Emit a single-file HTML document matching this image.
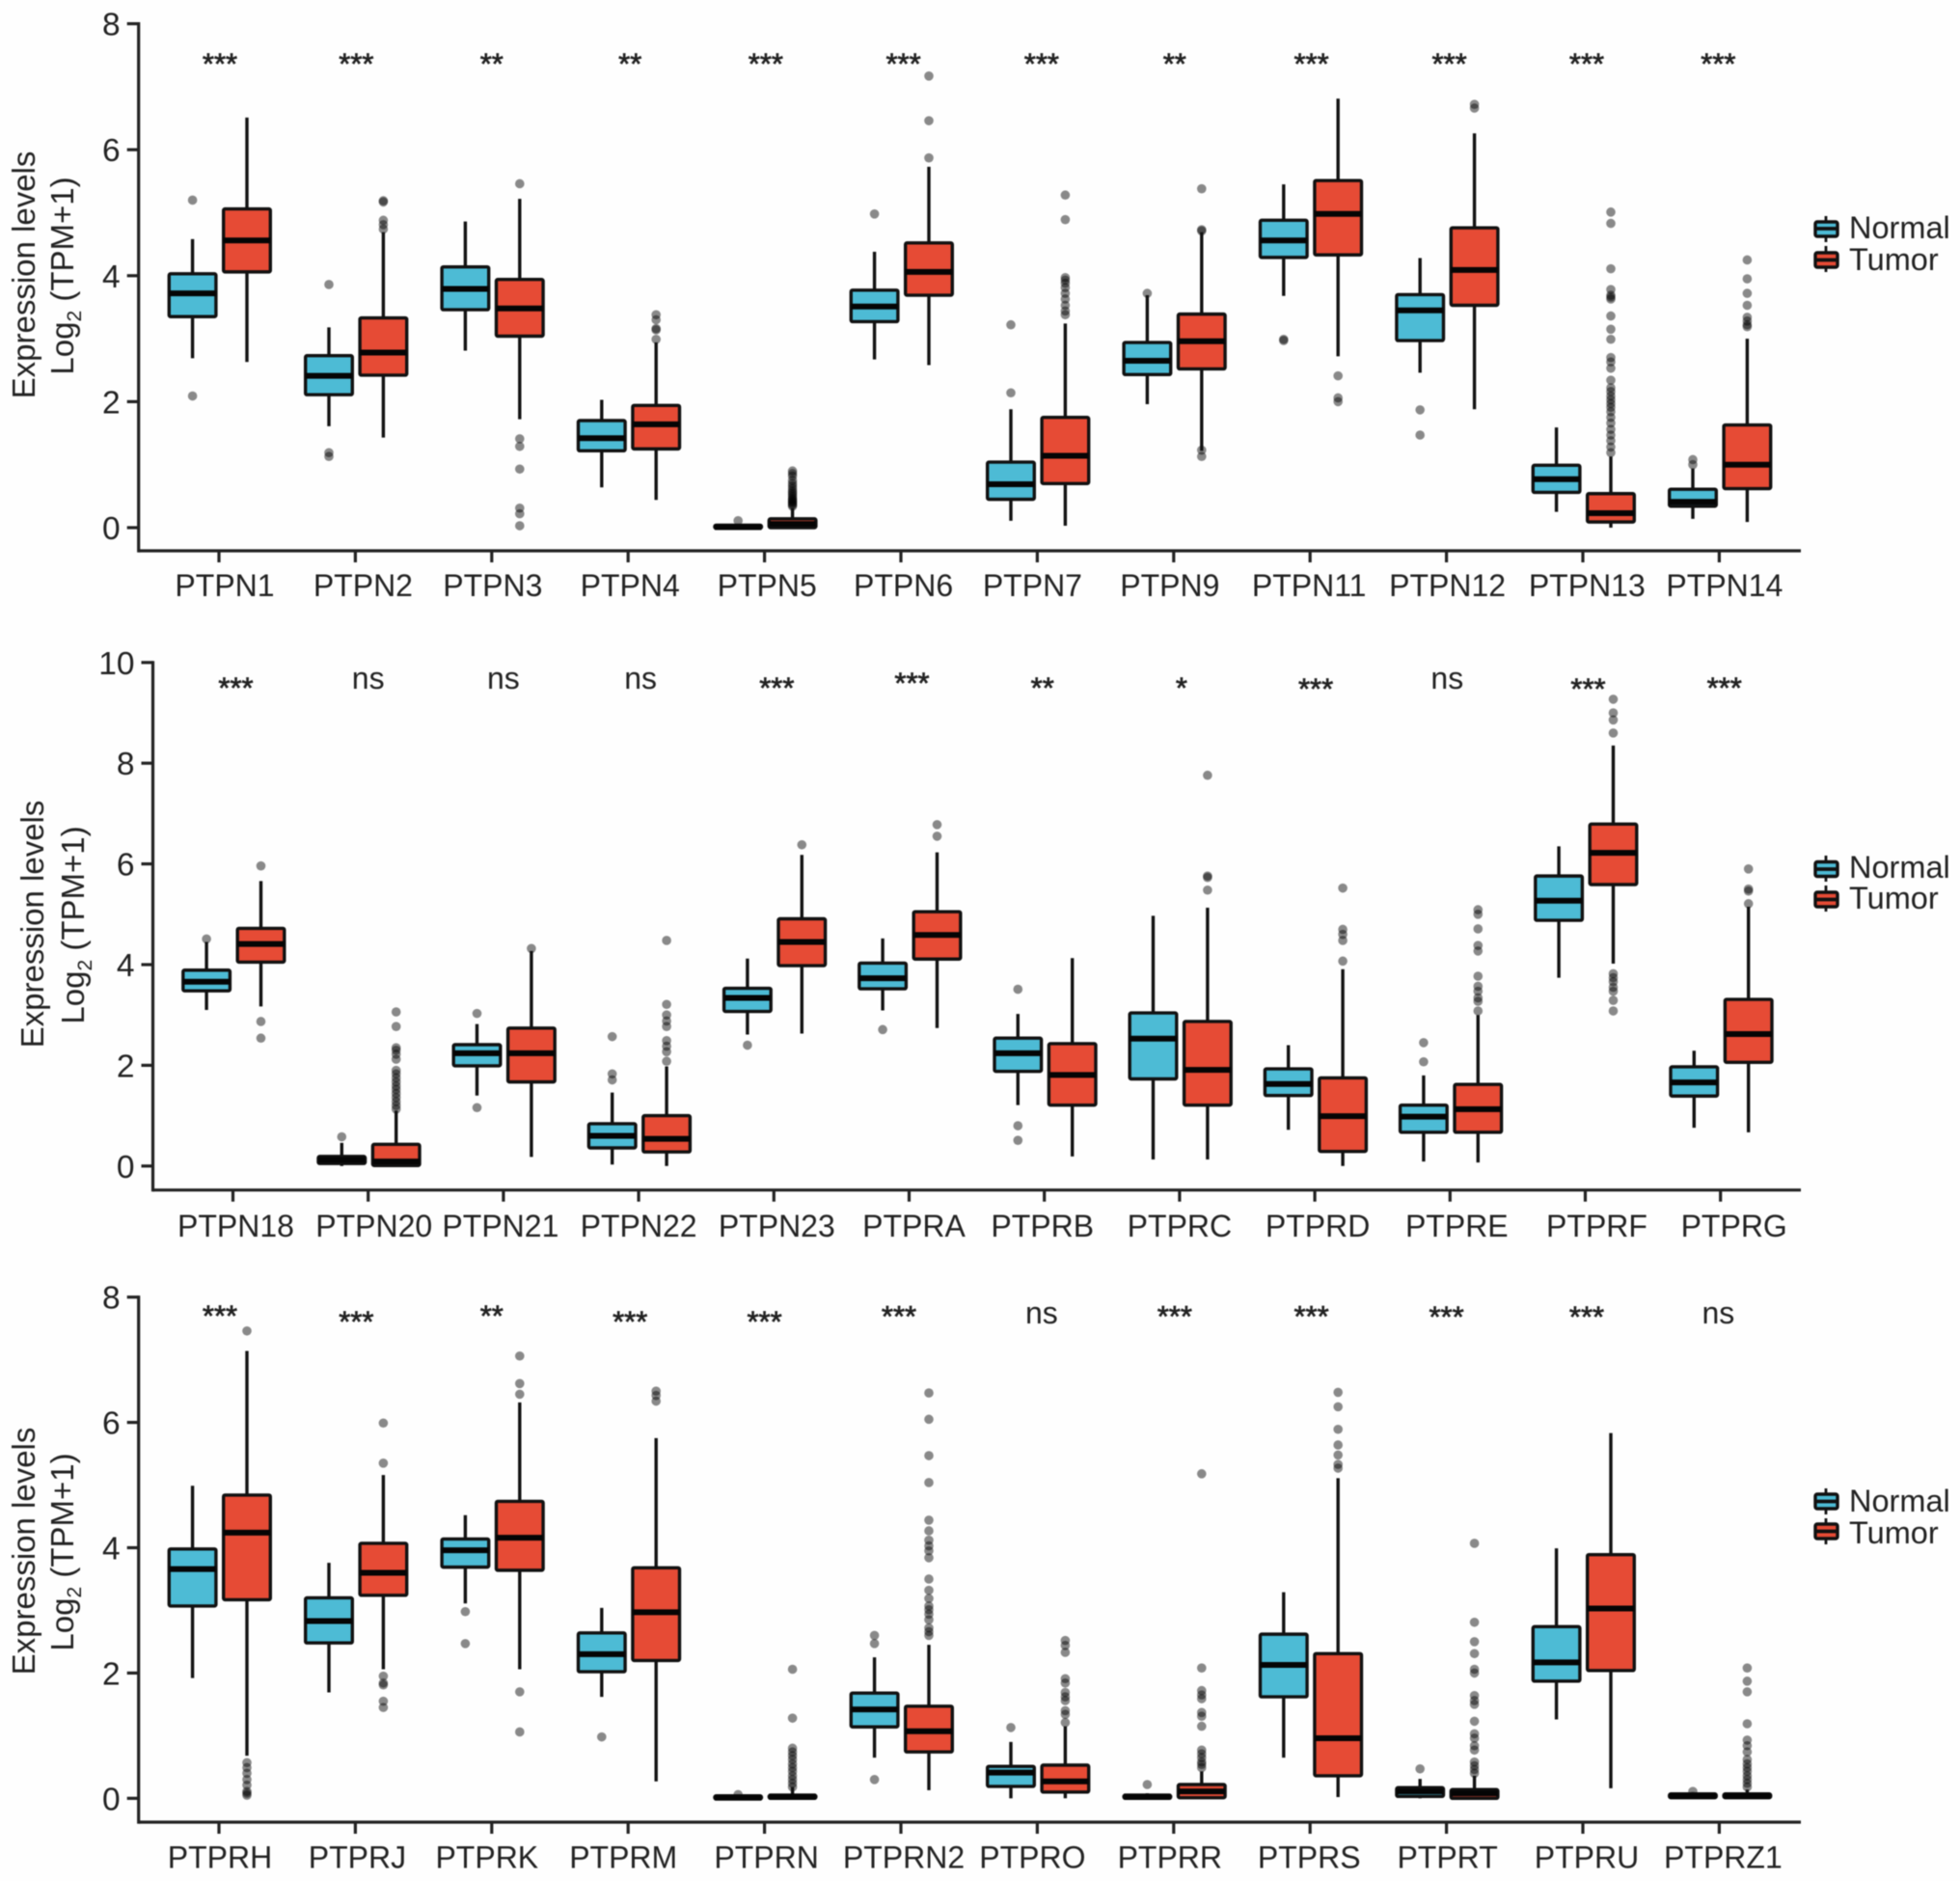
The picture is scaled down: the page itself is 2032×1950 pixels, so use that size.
<!DOCTYPE html>
<html lang="en">
<head>
<meta charset="utf-8">
<title>PTP family expression boxplots</title>
<style>
html,body{margin:0;padding:0;background:#fff;}
svg{display:block;font-family:"Liberation Sans",Arial,sans-serif;filter:blur(0.55px);}
text{fill:#222;}
</style>
</head>
<body>
<svg id="figure" xmlns="http://www.w3.org/2000/svg" width="2032" height="1950" viewBox="0 0 2032 1950">
  <rect x="0" y="0" width="2032" height="1950" fill="#fefefe"/>

  <g font-size="33">
    <text transform="translate(36,285) rotate(-90)" text-anchor="middle">Expression levels</text>
    <text transform="translate(76,286) rotate(-90)" text-anchor="middle">Log<tspan font-size="21" dy="8">2</tspan><tspan dy="-8"> (TPM+1)</tspan></text>
  </g>
  <g font-size="33">
    <text transform="translate(45,958) rotate(-90)" text-anchor="middle">Expression levels</text>
    <text transform="translate(87,959) rotate(-90)" text-anchor="middle">Log<tspan font-size="21" dy="8">2</tspan><tspan dy="-8"> (TPM+1)</tspan></text>
  </g>
  <g font-size="33">
    <text transform="translate(36,1608) rotate(-90)" text-anchor="middle">Expression levels</text>
    <text transform="translate(76,1609) rotate(-90)" text-anchor="middle">Log<tspan font-size="21" dy="8">2</tspan><tspan dy="-8"> (TPM+1)</tspan></text>
  </g>

  <g font-size="32.5">
    <g>
      <line x1="1893" x2="1893" y1="224" y2="251" stroke="#111" stroke-width="2.8"/>
      <rect x="1882" y="230" width="23" height="15" rx="2" fill="#4DBBD5" stroke="#111" stroke-width="3.4"/>
      <line x1="1882" x2="1905" y1="237" y2="237" stroke="#111" stroke-width="3.8"/>
      <text x="1917" y="247">Normal</text>
    </g>
    <g>
      <line x1="1893" x2="1893" y1="255" y2="282" stroke="#111" stroke-width="2.8"/>
      <rect x="1882" y="262" width="23" height="15" rx="2" fill="#E64B35" stroke="#111" stroke-width="3.4"/>
      <line x1="1882" x2="1905" y1="269.5" y2="269.5" stroke="#111" stroke-width="3.8"/>
      <text x="1917" y="280">Tumor</text>
    </g>
  </g>
  <g font-size="32.5">
    <g>
      <line x1="1893" x2="1893" y1="887" y2="914" stroke="#111" stroke-width="2.8"/>
      <rect x="1882" y="893.5" width="23" height="15" rx="2" fill="#4DBBD5" stroke="#111" stroke-width="3.4"/>
      <line x1="1882" x2="1905" y1="901" y2="901" stroke="#111" stroke-width="3.8"/>
      <text x="1917" y="910">Normal</text>
    </g>
    <g>
      <line x1="1893" x2="1893" y1="918" y2="945" stroke="#111" stroke-width="2.8"/>
      <rect x="1882" y="925" width="23" height="15" rx="2" fill="#E64B35" stroke="#111" stroke-width="3.4"/>
      <line x1="1882" x2="1905" y1="932.5" y2="932.5" stroke="#111" stroke-width="3.8"/>
      <text x="1917" y="942">Tumor</text>
    </g>
  </g>
  <g font-size="32.5">
    <g>
      <line x1="1893" x2="1893" y1="1543" y2="1570" stroke="#111" stroke-width="2.8"/>
      <rect x="1882" y="1549" width="23" height="15" rx="2" fill="#4DBBD5" stroke="#111" stroke-width="3.4"/>
      <line x1="1882" x2="1905" y1="1556.5" y2="1556.5" stroke="#111" stroke-width="3.8"/>
      <text x="1917" y="1567">Normal</text>
    </g>
    <g>
      <line x1="1893" x2="1893" y1="1574" y2="1601" stroke="#111" stroke-width="2.8"/>
      <rect x="1882" y="1580" width="23" height="15" rx="2" fill="#E64B35" stroke="#111" stroke-width="3.4"/>
      <line x1="1882" x2="1905" y1="1587.5" y2="1587.5" stroke="#111" stroke-width="3.8"/>
      <text x="1917" y="1600">Tumor</text>
    </g>
  </g>
</svg>

<script>
/* ---------- Panel 1 data ---------- */
const p1Categories = ['PTPN1','PTPN2','PTPN3','PTPN4','PTPN5','PTPN6','PTPN7','PTPN9','PTPN11','PTPN12','PTPN13','PTPN14'];
const p1Significance = ['***','***','**','**','***','***','***','**','***','***','***','***'];
const p1YTicks = [0,2,4,6,8];
const p1NormalLow  = [2.69,1.61,2.81,0.64,0.00,2.67,0.11,1.96,3.68,2.46,0.25,0.14];
const p1NormalQ1   = [3.35,2.11,3.46,1.22,-0.01,3.27,0.45,2.43,4.29,2.97,0.56,0.34];
const p1NormalMed  = [3.72,2.41,3.79,1.42,0.01,3.51,0.69,2.65,4.56,3.45,0.77,0.41];
const p1NormalQ3   = [4.03,2.73,4.14,1.70,0.04,3.77,1.04,2.94,4.88,3.70,0.99,0.61];
const p1NormalHigh = [4.58,3.18,4.86,2.03,0.06,4.38,1.88,3.69,5.45,4.28,1.59,0.94];
const p1NormalOut  = [[5.2,2.09],[3.86,1.19,1.13],[],[],[0.11],[4.98],[3.22,2.14],[3.72],[2.99,2.97],[1.87,1.47],[],[1.08,1.0]];
const p1TumorLow   = [2.63,1.43,1.72,0.44,0.00,2.58,0.03,1.22,2.72,1.88,0.00,0.09];
const p1TumorQ1    = [4.06,2.42,3.04,1.25,0.00,3.69,0.70,2.52,4.33,3.53,0.09,0.62];
const p1TumorMed   = [4.56,2.78,3.48,1.64,0.06,4.06,1.14,2.96,4.98,4.09,0.23,1.00];
const p1TumorQ3    = [5.06,3.33,3.94,1.94,0.14,4.52,1.75,3.39,5.51,4.76,0.54,1.63];
const p1TumorHigh  = [6.51,4.69,5.22,2.94,0.31,5.73,3.24,4.69,6.81,6.26,1.13,3.00];
const p1TumorOut   = [[],[5.19,5.17,4.88,4.81,4.74],[5.46,1.41,1.29,0.93,0.31,0.22,0.03],[3.38,3.3,3.16,3.14,2.99],
  [0.9,0.86,0.82,0.75,0.7,0.66,0.62,0.58,0.55,0.52,0.49,0.46,0.44,0.42,0.4,0.38,0.36,0.34],
  [7.17,6.46,5.87],[5.28,4.89,3.97,3.93,3.88,3.81,3.72,3.63,3.53,3.44,3.38],[5.38,4.73,4.71,1.23,1.13],[2.41,2.06,2.0],[6.72,6.66],
  [5.01,4.83,4.11,3.78,3.69,3.66,3.63,3.36,3.15,2.99,2.7,2.63,2.53,2.34,2.22,2.16,2.09,2.03,1.97,1.91,1.84,1.75,1.66,1.56,1.47,1.38,1.28,1.19],
  [4.25,3.95,3.72,3.53,3.34,3.28,3.22,3.19]];

/* ---------- Panel 2 data ---------- */
const p2Categories = ['PTPN18','PTPN20','PTPN21','PTPN22','PTPN23','PTPRA','PTPRB','PTPRC','PTPRD','PTPRE','PTPRF','PTPRG'];
const p2Significance = ['***','ns','ns','ns','***','***','**','*','***','ns','***','***'];
const p2YTicks = [0,2,4,6,8,10];
const p2NormalLow  = [3.10,0.00,1.40,0.03,2.61,3.09,1.21,0.13,0.72,0.09,3.74,0.76];
const p2NormalQ1   = [3.48,0.05,1.99,0.36,3.07,3.52,1.88,1.73,1.40,0.67,4.88,1.39];
const p2NormalMed  = [3.66,0.12,2.24,0.60,3.34,3.73,2.24,2.53,1.63,0.98,5.27,1.66];
const p2NormalQ3   = [3.89,0.19,2.41,0.84,3.53,4.03,2.54,3.04,1.93,1.21,5.76,1.97];
const p2NormalHigh = [4.45,0.46,2.82,1.46,4.12,4.52,3.02,4.97,2.40,1.80,6.35,2.29];
const p2NormalOut  = [[4.51],[0.58],[3.03,1.16],[2.57,1.83,1.71],[2.4],[2.71],[3.51,0.8,0.51],[],[],[2.45,2.07],[],[]];
const p2TumorLow   = [3.17,0.00,0.18,0.00,2.63,2.74,0.19,0.13,0.00,0.07,4.02,0.67];
const p2TumorQ1    = [4.05,0.01,1.67,0.28,3.98,4.11,1.21,1.21,0.29,0.67,5.59,2.06];
const p2TumorMed   = [4.41,0.09,2.24,0.54,4.45,4.59,1.81,1.91,0.99,1.13,6.22,2.62];
const p2TumorQ3    = [4.72,0.43,2.74,1.00,4.91,5.05,2.43,2.87,1.75,1.62,6.79,3.31];
const p2TumorHigh  = [5.66,1.10,4.27,1.98,6.18,6.23,4.13,5.13,3.91,3.00,8.35,5.15];
const p2TumorOut   = [[5.96,2.87,2.54],
  [3.06,2.77,2.35,2.3,2.22,2.12,1.9,1.83,1.75,1.67,1.59,1.52,1.44,1.36,1.28,1.2,1.13],
  [4.32],[4.48,3.21,3.0,2.88,2.77,2.49,2.38,2.27,2.08],[6.38],[6.78,6.55],[],[7.76,5.76,5.73,5.48],[5.52,4.7,4.6,4.48,4.07],
  [5.09,5.0,4.71,4.38,4.27,3.77,3.57,3.47,3.34,3.27,3.08],
  [9.27,9.0,8.86,8.6,3.82,3.74,3.66,3.55,3.47,3.29,3.08],[5.9,5.5,5.46,5.21]];

/* ---------- Panel 3 data ---------- */
const p3Categories = ['PTPRH','PTPRJ','PTPRK','PTPRM','PTPRN','PTPRN2','PTPRO','PTPRR','PTPRS','PTPRT','PTPRU','PTPRZ1'];
const p3Significance = ['***','***','**','***','***','***','ns','***','***','***','***','ns'];
const p3YTicks = [0,2,4,6,8];
const p3NormalLow  = [1.92,1.69,3.11,1.62,0.00,0.65,0.00,0.00,0.65,0.00,1.26,0.00];
const p3NormalQ1   = [3.07,2.48,3.69,2.02,-0.01,1.14,0.19,0.00,1.62,0.03,1.87,0.01];
const p3NormalMed  = [3.66,2.83,3.96,2.30,0.01,1.42,0.41,0.03,2.13,0.11,2.17,0.04];
const p3NormalQ3   = [3.98,3.20,4.14,2.64,0.04,1.68,0.51,0.05,2.62,0.17,2.74,0.07];
const p3NormalHigh = [4.99,3.76,4.52,3.04,0.05,2.25,0.90,0.08,3.29,0.31,3.99,0.10];
const p3NormalOut  = [[],[],[2.98,2.47],[0.98],[0.06],[2.6,2.47,0.3],[1.13],[0.22],[],[0.47],[],[0.11]];
const p3TumorLow   = [0.68,2.06,2.06,0.27,0.00,0.13,0.00,0.00,0.02,0.00,0.16,0.00];
const p3TumorQ1    = [3.17,3.24,3.64,2.20,0.00,0.74,0.10,0.01,0.36,0.00,2.04,0.01];
const p3TumorMed   = [4.24,3.60,4.16,2.97,0.03,1.07,0.27,0.11,0.96,0.08,3.03,0.04];
const p3TumorQ3    = [4.84,4.07,4.74,3.68,0.05,1.47,0.53,0.22,2.31,0.14,3.89,0.07];
const p3TumorHigh  = [7.14,5.16,6.32,5.75,0.18,2.45,1.15,0.43,5.11,0.36,5.83,0.14];
const p3TumorOut   = [[7.46,0.57,0.49,0.4,0.3,0.21,0.11,0.08,0.05],[5.99,5.35,1.95,1.84,1.81,1.55,1.45],[7.06,6.62,6.45,1.7,1.06],[6.5,6.43,6.34],
  [2.06,1.28,0.8,0.74,0.68,0.62,0.55,0.49,0.43,0.36,0.3,0.24,0.18],
  [6.47,6.05,5.47,5.04,4.44,4.27,4.12,4.03,3.95,3.84,3.5,3.32,3.19,3.07,3.01,2.94,2.85,2.72,2.66,2.6],
  [2.52,2.44,2.33,1.91,1.84,1.69,1.62,1.56,1.4,1.34,1.21],
  [5.18,2.08,1.72,1.65,1.59,1.37,1.31,1.15,0.77,0.71,0.65,0.58,0.54,0.49],
  [6.48,6.25,5.89,5.64,5.48,5.33,5.27],
  [4.07,2.81,2.5,2.31,2.06,2.0,1.64,1.56,1.5,1.23,1.03,0.96,0.84,0.77,0.58,0.52,0.46,0.4],
  [],
  [2.08,1.87,1.7,1.19,0.93,0.84,0.74,0.62,0.55,0.49,0.43,0.36,0.3,0.24,0.18]];

/* ---------- Drawing ---------- */
const SVGNS = 'http://www.w3.org/2000/svg';
const svg = document.getElementById('figure');

function mk(parent, tag, attrs, text) {
  const el = document.createElementNS(SVGNS, tag);
  for (const k in attrs) el.setAttribute(k, attrs[k]);
  if (text !== undefined) el.textContent = text;
  parent.appendChild(el);
  return el;
}

function drawBox(parent, cat, group, cx, yScale, s, fill) {
  const g = mk(parent, 'g', {});
  
  
  s.out.forEach(function (v) {
    const dot = mk(g, 'circle', { cx: cx, cy: yScale(v), r: 4.8, fill: '#000', 'fill-opacity': 0.46 });
    
    
  });
  const whisker = mk(g, 'line', { x1: cx, x2: cx, y1: yScale(s.high), y2: yScale(s.low), stroke: '#111', 'stroke-width': 3.4 });
  
  
  const top = yScale(s.q3), bottom = yScale(s.q1);
  const box = mk(g, 'rect', { x: cx - 24.3, y: top, width: 48.6, height: Math.max(bottom - top, 0.5), rx: 1.5, fill: fill, stroke: '#111', 'stroke-width': 3.4 });
  
  
  const med = mk(g, 'line', { x1: cx - 24.3, x2: cx + 24.3, y1: yScale(s.med), y2: yScale(s.med), stroke: '#050505', 'stroke-width': 6 });
  
  
}

function drawPanel(o) {
  const panel = mk(svg, 'g', {});
  
  

  const yScale = function (v) { return o.y0 - v * o.yUnit; };
  const xScale = function (i) { return o.x0 + i * o.xStep; };

  o.yTicks.forEach(function (t) {
    const tick = mk(panel, 'line', { x1: o.axisX - 12, x2: o.axisX, y1: yScale(t), y2: yScale(t), stroke: '#222', 'stroke-width': 3.2 });
    
    
    const lab = mk(panel, 'text', { x: o.axisX - 19, y: yScale(t) + 12, 'text-anchor': 'end', 'font-size': 33.5 }, String(t));
    
    
  });

  o.cats.forEach(function (c, i) {
    const x = xScale(i);
    const tick = mk(panel, 'line', { x1: x, x2: x, y1: o.axisY, y2: o.axisY + 12, stroke: '#222', 'stroke-width': 3.2 });
    
    
    const lab = mk(panel, 'text', { x: x + o.labelDx[i], y: o.labelY, 'text-anchor': 'middle', 'font-size': 32 }, c);
    
    

    const sig = o.sig[i];
    const isNs = sig === 'ns';
    const base = o.sigCenter[i] + (isNs ? 9 : 14.5);
    const st = mk(panel, 'text', { x: x + o.sigDx[i], y: base, 'text-anchor': 'middle', 'font-size': isNs ? 32 : 31, stroke: isNs ? 'none' : '#222', 'stroke-width': isNs ? 0 : 0.7 }, sig);
    
    

    drawBox(panel, c, 'normal', x + 0.8 - 28.2, yScale,
      { low: o.n.low[i], q1: o.n.q1[i], med: o.n.med[i], q3: o.n.q3[i], high: o.n.high[i], out: o.n.out[i] }, '#4DBBD5');
    drawBox(panel, c, 'tumor', x + 0.8 + 28.2, yScale,
      { low: o.t.low[i], q1: o.t.q1[i], med: o.t.med[i], q3: o.t.q3[i], high: o.t.high[i], out: o.t.out[i] }, '#E64B35');
  });

  const yAxis = mk(panel, 'line', { x1: o.axisX, x2: o.axisX, y1: yScale(o.yTicks[o.yTicks.length - 1]) - 1.6, y2: o.axisY + 1.6, stroke: '#222', 'stroke-width': 3.2 });
  
  
  const xAxis = mk(panel, 'line', { x1: o.axisX, x2: 1867, y1: o.axisY, y2: o.axisY, stroke: '#222', 'stroke-width': 3.2 });
  
  
}

drawPanel({
  name: 'panel-1-ptpn-boxplot', cats: p1Categories, sig: p1Significance, yTicks: p1YTicks,
  n: { low: p1NormalLow, q1: p1NormalQ1, med: p1NormalMed, q3: p1NormalQ3, high: p1NormalHigh, out: p1NormalOut },
  t: { low: p1TumorLow, q1: p1TumorQ1, med: p1TumorMed, q3: p1TumorQ3, high: p1TumorHigh, out: p1TumorOut },
  axisX: 143.7, axisY: 571, y0: 547, yUnit: 65.3, x0: 227, xStep: 141.4, labelY: 618,
  labelDx: [6,8,1,2,2.6,2.6,-5,-4,-1,1,4.3,5.5],
  sigDx: [1,1,0,2,1.3,2.6,4.5,1,1.4,3,4,-1],
  sigCenter: [62,62,62,62,62,62,62,62,62,62,62,62]
});
drawPanel({
  name: 'panel-2-ptpn-ptpr-boxplot', cats: p2Categories, sig: p2Significance, yTicks: p2YTicks,
  n: { low: p2NormalLow, q1: p2NormalQ1, med: p2NormalMed, q3: p2NormalQ3, high: p2NormalHigh, out: p2NormalOut },
  t: { low: p2TumorLow, q1: p2TumorQ1, med: p2TumorMed, q3: p2TumorQ3, high: p2TumorHigh, out: p2TumorOut },
  axisX: 158.5, axisY: 1233.7, y0: 1208.8, yUnit: 52.2, x0: 241.5, xStep: 140.2, labelY: 1282,
  labelDx: [3,6,-3,0,3,5,-2,0,3,7,12,14],
  sigDx: [3,0,0,2,3,3,-2,2,1,-3,3,4],
  sigCenter: [709,705,705,705,709,704,709,709,710,705,710,709]
});
drawPanel({
  name: 'panel-3-ptpr-boxplot', cats: p3Categories, sig: p3Significance, yTicks: p3YTicks,
  n: { low: p3NormalLow, q1: p3NormalQ1, med: p3NormalMed, q3: p3NormalQ3, high: p3NormalHigh, out: p3NormalOut },
  t: { low: p3TumorLow, q1: p3TumorQ1, med: p3TumorMed, q3: p3TumorQ3, high: p3TumorHigh, out: p3TumorOut },
  axisX: 143.7, axisY: 1889, y0: 1864.3, yUnit: 64.95, x0: 227, xStep: 141.4, labelY: 1936.5,
  labelDx: [1,2,-5,-5,2,3,-5,-4,-1,1,4,4],
  sigDx: [1,1,0,2,0,-2,4.5,1,1.4,0,4,-1],
  sigCenter: [1360,1366,1360,1366,1366,1360.6,1363,1360.6,1360.6,1361,1361,1363]
});
</script>
</body>
</html>
